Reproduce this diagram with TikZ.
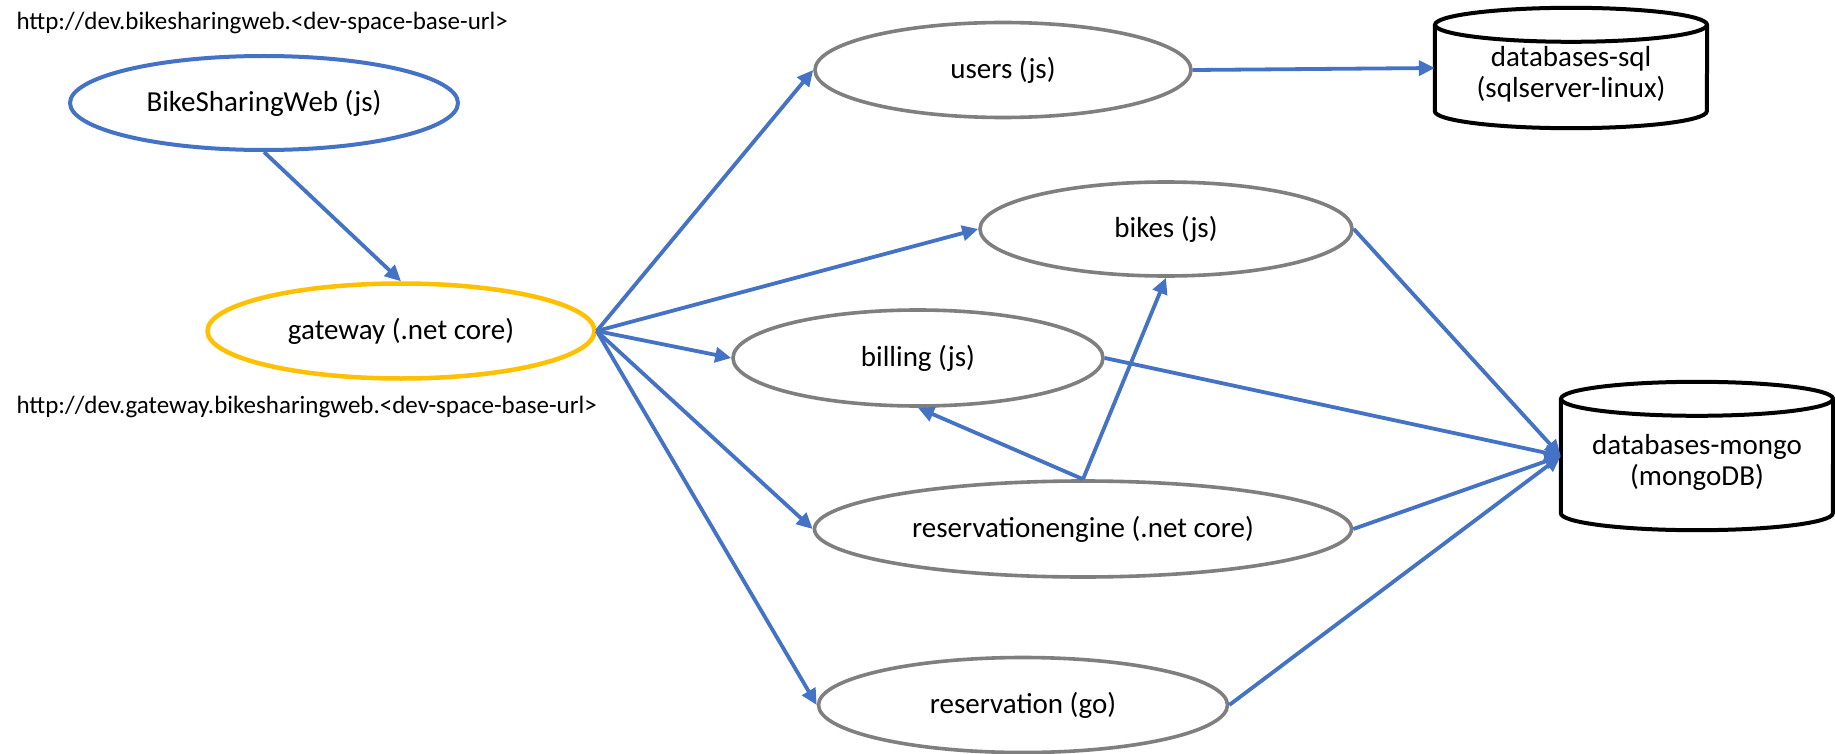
\documentclass[tikz,border=0pt]{standalone}
\usepackage{fontspec}
\setmainfont{Carlito}
\usetikzlibrary{arrows.meta,shapes.geometric}
\definecolor{linkblue}{HTML}{4472C4}
\definecolor{svcgray}{HTML}{7F7F7F}
\definecolor{gwgold}{HTML}{FFC000}
\newcommand\dbdrum[1]{%
  \draw[line width=4pt] ([yshift=-17pt]#1.north) ellipse [x radius=136pt,y radius=17pt];
  \draw[line width=4pt] ([yshift=-17pt]#1.north west) -- ([yshift=17pt]#1.south west)
    arc[start angle=180,end angle=360,x radius=136pt,y radius=17pt] -- ([yshift=-17pt]#1.north east);}
\newcommand\dbtext[2]{\raisebox{-8pt}[\height][\depth]{\begin{tabular}{@{}c@{}}#1\\#2\end{tabular}}}
\begin{document}
\begin{tikzpicture}[x=1pt,y=-1pt,
  every node/.style={font=\fontsize{29}{31}\selectfont},
  svc/.style={ellipse,draw=svcgray,line width=3.6pt,inner sep=0pt},
  db/.style={rectangle,minimum width=272pt,inner sep=0pt},
  url/.style={anchor=west,font=\fontsize{25}{30}\selectfont},
  link/.style={draw=linkblue,line width=3.8pt,-{Triangle[length=16pt,width=15pt]}}]
\useasboundingbox[fill=white] (0,0) rectangle (1835,754);
\node[url] (urlweb) at (13,23) {http://dev.bikesharingweb.<dev-space-base-url>};
\node[url] (urlgw) at (13,407) {http://dev.gateway.bikesharingweb.<dev-space-base-url>};
\node[svc,draw=linkblue,line width=4pt,minimum width=388pt,minimum height=94pt] (web) at (264,103) {BikeSharingWeb (js)};
\node[svc,draw=gwgold,line width=4.5pt,minimum width=387pt,minimum height=95pt] (gw) at (401,331) {gateway (.net core)};
\node[svc,minimum width=376pt,minimum height=95pt] (users) at (1003,70) {users (js)};
\node[svc,minimum width=372pt,minimum height=94pt] (bikes) at (1166,229) {bikes (js)};
\node[svc,minimum width=370pt,minimum height=96pt] (billing) at (918,358) {billing (js)};
\node[svc,minimum width=537pt,minimum height=96pt] (engine) at (1083,529) {reservationengine (.net core)};
\node[svc,minimum width=409pt,minimum height=95pt] (resv) at (1023,705) {reservation (go)};
\node[db,minimum height=120pt] (sqldb) at (1571,68) {\dbtext{databases-sql}{(sqlserver-linux)}};
\node[db,minimum height=148pt] (mongodb) at (1697,456) {\dbtext{databases-mongo}{(mongoDB)}};
\dbdrum{sqldb}
\dbdrum{mongodb}

\draw[link] (web.south) -- (gw.north);
\draw[link] (gw.east) -- (users.west);
\draw[link] (gw.east) -- (bikes.west);
\draw[link] (gw.east) -- (billing.west);
\draw[link] (gw.east) -- (engine.west);
\draw[link] (gw.east) -- (resv.west);
\draw[link] (users.east) -- (sqldb.west);
\draw[link] (bikes.east) -- (mongodb.west);
\draw[link] (billing.east) -- (mongodb.west);
\draw[link] (engine.east) -- (mongodb.west);
\draw[link] (resv.east) -- (mongodb.west);
\draw[link] (engine.north) -- (billing.south);
\draw[link] (engine.north) -- (bikes.south);
\end{tikzpicture}
\end{document}
